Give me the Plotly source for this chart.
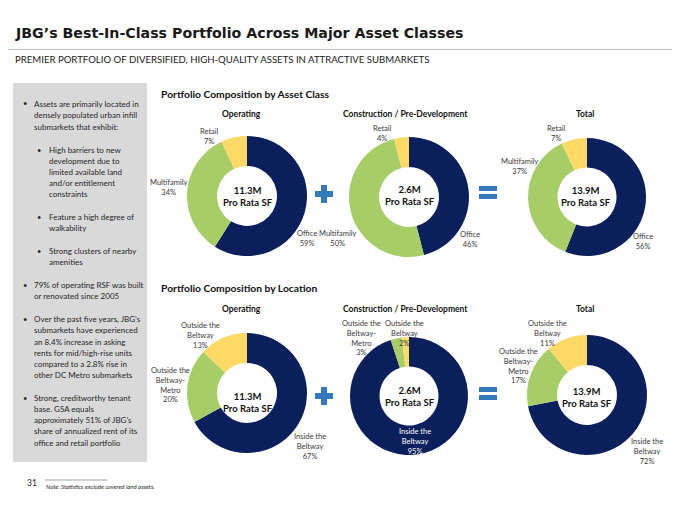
import plotly.graph_objects as go

W, H = 680, 510

# ---------------- data ----------------
asset_classes = ["Office", "Multifamily", "Retail"]
asset_operating = [59, 34, 7]
asset_construction = [46, 50, 4]
asset_total = [56, 37, 7]

locations = ["Inside the Beltway", "Outside the Beltway-Metro", "Outside the Beltway"]
location_label_lines = ["Inside the<br>Beltway", "Outside the<br>Beltway-<br>Metro", "Outside the<br>Beltway"]
loc_operating = [67, 20, 13]
loc_construction = [95, 3, 2]
loc_total = [72, 17, 11]

pie_titles = ["Operating", "Construction / Pre-Development", "Total"]
pie_center_values = ["11.3M", "2.6M", "13.9M"]
center_suffix = "Pro Rata SF"

section_titles = ["Portfolio Composition by Asset Class", "Portfolio Composition by Location"]

colors = ["#0B1F5C", "#A6CD66", "#FFD966"]
BLUE = "#3479BE"
FONT = "Lato"
TXT = "#3a3a3a"


def px(x):
    return x / W


def py(y):
    return 1 - y / H


fig = go.Figure()

# ---------------- donuts ----------------
# (values, labels, center x, center y, radius)
pies = [
    (asset_operating, asset_classes, 247, 196, 60),
    (asset_construction, asset_classes, 409, 197, 60),
    (asset_total, asset_classes, 587, 197, 59),
    (loc_operating, locations, 247, 393, 60),
    (loc_construction, locations, 409, 396, 59),
    (loc_total, locations, 587, 395, 60),
]
for vals, labs, cx, cy, r in pies:
    fig.add_trace(go.Pie(
        values=vals, labels=labs, sort=False, direction="clockwise", rotation=0,
        hole=0.5, textinfo="none", hoverinfo="label+percent", showlegend=False,
        marker=dict(colors=colors, line=dict(width=0)),
        domain=dict(x=[px(cx - r), px(cx + r)], y=[py(cy + r), py(cy - r)]),
    ))

annotations = []


def text(x, y, s, size=7.5, color=TXT, bold=False, xanchor="center", italic=False, family=FONT):
    if bold:
        s = "<b>" + s + "</b>"
    if italic:
        s = "<i>" + s + "</i>"
    annotations.append(dict(
        x=px(x), y=py(y), xref="paper", yref="paper", text=s, showarrow=False,
        xanchor=xanchor, yanchor="middle", align="center" if xanchor == "center" else "left",
        font=dict(family=family, size=size, color=color), borderpad=0,
    ))


# slice labels (text from data arrays, positions chosen per layout)
asset_label_pos = [
    [(307, 238), (169, 187), (209, 137)],
    [(470, 239), (338, 238), (382, 134)],
    [(643, 241), (520, 167), (556, 134)],
]
for series, pos in zip([asset_operating, asset_construction, asset_total], asset_label_pos):
    for name, v, (x, y) in zip(asset_classes, series, pos):
        text(x, y, f"{name}<br>{v}%")

loc_label_pos = [
    [(310, 446), (170, 385), (200, 335)],
    [(415, 441), (361, 338), (404, 333)],
    [(647, 451), (518, 366), (547, 333)],
]
for si, (series, pos) in enumerate(zip([loc_operating, loc_construction, loc_total], loc_label_pos)):
    for li, (name, v, (x, y)) in enumerate(zip(location_label_lines, series, pos)):
        col = "#ffffff" if (si == 1 and li == 0) else TXT
        text(x, y, f"{name}<br>{v}%", color=col)

# center labels
center_pos = [(248, 197), (410, 196), (586, 197), (248, 402), (410, 396), (587, 397)]
for i, (x, y) in enumerate(center_pos):
    text(x, y, f"{pie_center_values[i % 3]}<br>{center_suffix}", size=9.5, color="#111111", bold=True)

# section and column titles
text(160, 94, section_titles[0], size=10.3, color="#111111", bold=True, xanchor="left")
text(160, 288, section_titles[1], size=10.3, color="#111111", bold=True, xanchor="left")
for y in (114, 309):
    for x, t in zip((241, 405, 585), pie_titles):
        text(x, y, t, size=8.5, color="#111111", bold=True)

# header
text(14, 33.5, "JBG’s Best-In-Class Portfolio Across Major Asset Classes", size=14.2,
     color="#1a1a1a", bold=True, xanchor="left", family="DejaVu Sans")
text(14, 59.5, "PREMIER PORTFOLIO OF DIVERSIFIED, HIGH-QUALITY ASSETS IN ATTRACTIVE SUBMARKETS",
     size=9.6, color="#1a1a1a", xanchor="left")

# left panel bullets: (level, y, line, starts a bullet)
bullet_lines = [
    (0, 104, "Assets are primarily located in", True),
    (0, 115.5, "densely populated urban infill", False),
    (0, 127, "submarkets that exhibit:", False),
    (1, 150, "High barriers to new", True),
    (1, 161, "development due to", False),
    (1, 172, "limited available land", False),
    (1, 183, "and/or entitlement", False),
    (1, 194, "constraints", False),
    (1, 217, "Feature a high degree of", True),
    (1, 228, "walkability", False),
    (1, 251, "Strong clusters of nearby", True),
    (1, 262, "amenities", False),
    (0, 285, "79% of operating RSF was built", True),
    (0, 296, "or renovated since 2005", False),
    (0, 319, "Over the past five years, JBG’s", True),
    (0, 330, "submarkets have experienced", False),
    (0, 341.5, "an 8.4% increase in asking", False),
    (0, 352.5, "rents for mid/high-rise units", False),
    (0, 363.5, "compared to a 2.8% rise in", False),
    (0, 374.5, "other DC Metro submarkets", False),
    (0, 398, "Strong, creditworthy tenant", True),
    (0, 409, "base. GSA equals", False),
    (0, 420, "approximately 51% of JBG’s", False),
    (0, 431, "share of annualized rent of its", False),
    (0, 442.5, "office and retail portfolio", False),
]
for lvl, y, s, first in bullet_lines:
    tx = 33 if lvl == 0 else 48
    bx = 22 if lvl == 0 else 36
    if first:
        text(bx, y, "•", size=7.5, color="#262626", xanchor="left")
    text(tx, y, s, size=8.0, color="#262626", xanchor="left")

# footer
text(26, 482.5, "31", size=8.5, color="#262626", xanchor="left")
text(45, 486.5, "Note: Statistics exclude covered land assets.", size=6, color="#262626",
     xanchor="left", italic=True)

shapes = []


def rect(x0, y0, x1, y1, color):
    shapes.append(dict(type="rect", xref="paper", yref="paper", x0=px(x0), x1=px(x1),
                       y0=py(y1), y1=py(y0), fillcolor=color, line=dict(width=0), layer="below"))


def hline(x0, x1, y, color, w):
    shapes.append(dict(type="line", xref="paper", yref="paper", x0=px(x0), x1=px(x1),
                       y0=py(y), y1=py(y), line=dict(color=color, width=w)))


rect(13, 83, 147, 462, "#D9D9D9")
hline(8, 672, 49.5, "#BFBFBF", 1)
hline(45, 107, 480, "#7F7F7F", 0.7)

# plus signs and equals signs
for cy in (194, 396):
    rect(315, cy - 3, 333, cy + 3, BLUE)
    rect(321, cy - 9, 327, cy + 9, BLUE)
for cy in (192.5, 393.5):
    rect(479, cy - 6.5, 497, cy - 1.5, BLUE)
    rect(479, cy + 1.5, 497, cy + 6.5, BLUE)

fig.update_layout(
    width=W, height=H, margin=dict(l=0, r=0, t=0, b=0),
    paper_bgcolor="white", plot_bgcolor="white",
    annotations=annotations, shapes=shapes,
)

fig.write_html("out.html")
